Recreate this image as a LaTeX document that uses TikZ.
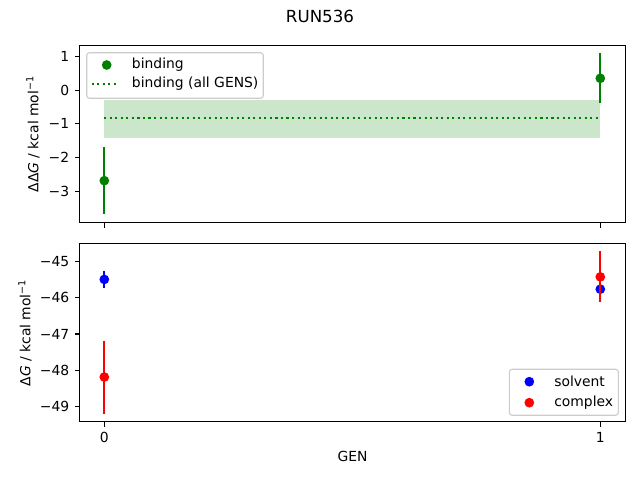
\documentclass[tikz,border=0pt]{standalone}
\usepackage{fontspec}
\setmainfont{DejaVu Sans}
\definecolor{mplgreen}{HTML}{008000}
\tikzset{
  axframe/.style={draw=black,line width=0.8pt},
  tickmark/.style={line width=0.8pt},
  ticklbl/.style={inner sep=0pt},
  errbar/.style={line width=1.5pt},
  dot/.style={circle,inner sep=0pt,minimum size=7pt},
  dotline/.style={mplgreen,line width=1.5pt,dash pattern=on 1.5pt off 2.475pt},
  lgdbox/.style={draw=black!20,fill=white,fill opacity=0.8,line width=0.8pt,rounded corners=2pt},
  lgdtext/.style={anchor=west,inner sep=0pt}
}
\begin{document}
\begin{tikzpicture}[x=0.72pt,y=0.72pt,font=\fontsize{10pt}{12pt}\selectfont]
\useasboundingbox (0,0) rectangle (640,480);
% top panel: binding free energy
\begin{scope}[shift={(104.3,389.7)},x=357.12pt,y=24.192pt]
  \fill[mplgreen,fill opacity=0.2] (0,-0.29) rectangle (1,-1.41);
  \coordinate (allL) at (0,-0.815);
  \coordinate (allR) at (1,-0.815);
  \draw[dotline] (allL) -- (allR);
  \coordinate (b0hi) at (0,-1.69);
  \coordinate (b0lo) at (0,-3.69);
  \coordinate (b1hi) at (1,1.10);
  \coordinate (b1lo) at (1,-0.387);
  \draw[errbar,mplgreen] (b0hi) -- (b0lo);
  \node[dot,fill=mplgreen] (b0) at (0,-2.69) {};
  \draw[errbar,mplgreen] (b1hi) -- (b1lo);
  \node[dot,fill=mplgreen] (b1) at (1,0.357) {};
  \draw[axframe] (-0.05,-3.94) rectangle (1.05,1.34);
  \foreach \v/\t in {1/1,0/0,-1/−1,-2/−2,-3/−3}
    \draw[tickmark] (-0.05,\v) -- ++(-3.5pt,0) node[ticklbl,anchor=east,xshift=-3.5pt] {\t};
  \foreach \v in {0,1}
    \draw[tickmark] (\v,-3.94) -- ++(0,-3.5pt);
\end{scope}
% bottom panel: solvent and complex legs
\begin{scope}[shift={(104.3,1845.05)},x=357.12pt,y=26.028pt]
  \draw[errbar,blue] (0,-45.25) -- (0,-45.73);
  \node[dot,fill=blue] (s0) at (0,-45.49) {};
  \node[dot,fill=blue] (s1) at (1,-45.76) {};
  \draw[errbar,red] (0,-47.19) -- (0,-49.2);
  \node[dot,fill=red] (c0) at (0,-48.19) {};
  \draw[errbar,red] (1,-44.71) -- (1,-46.12);
  \node[dot,fill=red] (c1) at (1,-45.42) {};
  \draw[axframe] (-0.05,-49.43) rectangle (1.05,-44.49);
  \foreach \v/\t in {-45/−45,-46/−46,-47/−47,-48/−48,-49/−49}
    \draw[tickmark] (-0.05,\v) -- ++(-3.5pt,0) node[ticklbl,anchor=east,xshift=-3.5pt] {\t};
  \foreach \v in {0,1}
    \draw[tickmark] (\v,-49.43) -- ++(0,-3.5pt) node[ticklbl,anchor=north,yshift=-3.5pt] {\v};
\end{scope}
% legends
\draw[lgdbox] (86.7,381.7) rectangle (263.3,427.3);
\node[dot,fill=mplgreen] (lg1) at (106.7,415) {};
\node[lgdtext] (lt1) at (131.7,415) {binding};
\coordinate (lg2a) at (91.7,396.3);
\coordinate (lg2b) at (119.3,396.3);
\draw[dotline] (lg2a) -- (lg2b);
\node[lgdtext] (lt2) at (131.7,396.3) {binding (all GENS)};
\draw[lgdbox] (509.3,64.7) rectangle (618.3,110.7);
\node[dot,fill=blue] (lg3) at (529.3,98.3) {};
\node[lgdtext] (lt3) at (554,98.3) {solvent};
\node[dot,fill=red] (lg4) at (529.3,77.3) {};
\node[lgdtext] (lt4) at (554,77.3) {complex};
% titles and axis labels
\node[font=\fontsize{12pt}{14pt}\selectfont] (title) at (320,464) {RUN536};
\node (xlbl) at (352.5,23.3) {GEN};
\node[rotate=90] (ylbl1) at (33,346) {ΔΔ\textit{G} / kcal mol\textsuperscript{−1}};
\node[rotate=90] (ylbl2) at (25,147.3) {Δ\textit{G} / kcal mol\textsuperscript{−1}};
\end{tikzpicture}
\end{document}
